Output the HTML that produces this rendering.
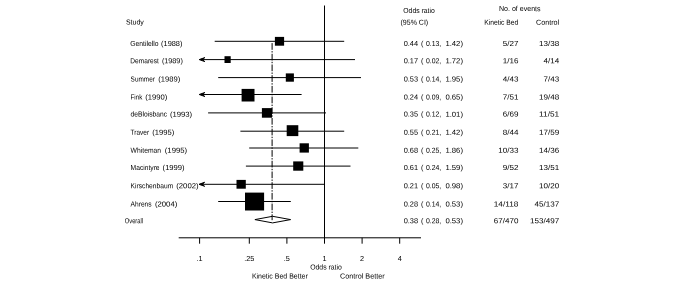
<!DOCTYPE html>
<html><head><meta charset="utf-8"><title>Forest plot</title>
<style>
html,body{margin:0;padding:0;background:#fff;}
svg{display:block;}
text{font-family:"Liberation Sans",sans-serif;font-size:7.3px;fill:#000;}
.l{stroke:#000;stroke-width:1;fill:none;}
</style></head><body>
<svg width="685" height="286" viewBox="0 0 685 286">
<rect width="685" height="286" fill="#fff"/>

<text transform="rotate(0.05 125.9 24.6)" x="125.9" y="24.6" textLength="17.9" lengthAdjust="spacingAndGlyphs">Study</text>
<text transform="rotate(0.05 403.3 13.1)" x="403.3" y="13.1" textLength="31.5" lengthAdjust="spacingAndGlyphs">Odds ratio</text>
<text transform="rotate(0.05 400.5 24.7)" x="400.5" y="24.7" textLength="27.7" lengthAdjust="spacingAndGlyphs">(95% CI)</text>
<text transform="rotate(0.05 499.0 11.1)" x="499.0" y="11.1" textLength="41.6" lengthAdjust="spacingAndGlyphs">No. of events</text>
<text transform="rotate(0.05 484.2 24.7)" x="484.2" y="24.7" textLength="34.2" lengthAdjust="spacingAndGlyphs">Kinetic Bed</text>
<text transform="rotate(0.05 536.0 24.7)" x="536.0" y="24.7" textLength="23.2" lengthAdjust="spacingAndGlyphs">Control</text>
<line class="l" x1="324.5" y1="5.5" x2="324.5" y2="243.7" stroke-width="1.15"/>
<line class="l" x1="272.1" y1="43.1" x2="272.1" y2="220.2" stroke-width="1.25" stroke-dasharray="6.7 1.3 1.4 1.3"/>
<text transform="rotate(0.05 130.3 46.0)" y="46.0"><tspan x="130.3" textLength="28.2" lengthAdjust="spacingAndGlyphs">Gentilello</tspan> <tspan x="161.1" textLength="21.3" lengthAdjust="spacingAndGlyphs">(1988)</tspan></text>
<line class="l" x1="214.7" y1="41.3" x2="344.2" y2="41.3" stroke-width="1"/>
<rect x="274.9" y="36.9" width="9.2" height="8.8" fill="#000"/>
<text transform="rotate(0.05 403.7 46.0)" y="46.0"><tspan x="403.7" textLength="14.4" lengthAdjust="spacingAndGlyphs">0.44</tspan> <tspan x="420.9">(</tspan> <tspan x="425.9" textLength="15.3" lengthAdjust="spacingAndGlyphs">0.13,</tspan> <tspan x="445.4" textLength="17.6" lengthAdjust="spacingAndGlyphs">1.42)</tspan></text>
<text transform="rotate(0.05 502.7 46.0)" x="502.7" y="46.0" textLength="15.7" lengthAdjust="spacingAndGlyphs">5/27</text>
<text transform="rotate(0.05 539.0 46.0)" x="539.0" y="46.0" textLength="20.2" lengthAdjust="spacingAndGlyphs">13/38</text>
<text transform="rotate(0.05 130.3 63.2)" y="63.2"><tspan x="130.3" textLength="28.6" lengthAdjust="spacingAndGlyphs">Demarest</tspan> <tspan x="161.9" textLength="20.9" lengthAdjust="spacingAndGlyphs">(1989)</tspan></text>
<line class="l" x1="200.8" y1="59.6" x2="355.0" y2="59.6" stroke-width="1.3"/>
<path d="M204.8 57.6 L199.2 59.6 L204.8 61.6 L202.6 59.6 Z" fill="#000" stroke="#000" stroke-width="1" stroke-linejoin="miter"/>
<rect x="224.5" y="56.2" width="6.2" height="6.8" fill="#000"/>
<text transform="rotate(0.05 403.7 63.2)" y="63.2"><tspan x="403.7" textLength="14.4" lengthAdjust="spacingAndGlyphs">0.17</tspan> <tspan x="420.9">(</tspan> <tspan x="425.9" textLength="15.3" lengthAdjust="spacingAndGlyphs">0.02,</tspan> <tspan x="445.4" textLength="17.6" lengthAdjust="spacingAndGlyphs">1.72)</tspan></text>
<text transform="rotate(0.05 502.7 63.2)" x="502.7" y="63.2" textLength="15.7" lengthAdjust="spacingAndGlyphs">1/16</text>
<text transform="rotate(0.05 543.5 63.2)" x="543.5" y="63.2" textLength="15.7" lengthAdjust="spacingAndGlyphs">4/14</text>
<text transform="rotate(0.05 130.6 81.5)" y="81.5"><tspan x="130.6" textLength="24.3" lengthAdjust="spacingAndGlyphs">Summer</tspan> <tspan x="158.2" textLength="22.0" lengthAdjust="spacingAndGlyphs">(1989)</tspan></text>
<line class="l" x1="218.2" y1="77.6" x2="361.0" y2="77.6" stroke-width="1"/>
<rect x="285.8" y="73.4" width="8.1" height="8.3" fill="#000"/>
<text transform="rotate(0.05 403.7 81.5)" y="81.5"><tspan x="403.7" textLength="14.4" lengthAdjust="spacingAndGlyphs">0.53</tspan> <tspan x="420.9">(</tspan> <tspan x="425.9" textLength="15.3" lengthAdjust="spacingAndGlyphs">0.14,</tspan> <tspan x="445.4" textLength="17.6" lengthAdjust="spacingAndGlyphs">1.95)</tspan></text>
<text transform="rotate(0.05 502.7 81.5)" x="502.7" y="81.5" textLength="15.7" lengthAdjust="spacingAndGlyphs">4/43</text>
<text transform="rotate(0.05 543.5 81.5)" x="543.5" y="81.5" textLength="15.7" lengthAdjust="spacingAndGlyphs">7/43</text>
<text transform="rotate(0.05 130.6 99.5)" y="99.5"><tspan x="130.6" textLength="11.7" lengthAdjust="spacingAndGlyphs">Fink</tspan> <tspan x="145.3" textLength="22.1" lengthAdjust="spacingAndGlyphs">(1990)</tspan></text>
<line class="l" x1="200.8" y1="94.5" x2="301.6" y2="94.5" stroke-width="1.3"/>
<path d="M204.8 92.5 L199.2 94.5 L204.8 96.5 L202.6 94.5 Z" fill="#000" stroke="#000" stroke-width="1" stroke-linejoin="miter"/>
<rect x="241.6" y="88.9" width="12.9" height="12.6" fill="#000"/>
<text transform="rotate(0.05 403.7 99.5)" y="99.5"><tspan x="403.7" textLength="14.4" lengthAdjust="spacingAndGlyphs">0.24</tspan> <tspan x="420.9">(</tspan> <tspan x="425.9" textLength="15.3" lengthAdjust="spacingAndGlyphs">0.09,</tspan> <tspan x="445.4" textLength="17.6" lengthAdjust="spacingAndGlyphs">0.65)</tspan></text>
<text transform="rotate(0.05 502.7 99.5)" x="502.7" y="99.5" textLength="15.7" lengthAdjust="spacingAndGlyphs">7/51</text>
<text transform="rotate(0.05 539.0 99.5)" x="539.0" y="99.5" textLength="20.2" lengthAdjust="spacingAndGlyphs">19/48</text>
<text transform="rotate(0.05 130.6 116.6)" y="116.6"><tspan x="130.6" textLength="36.4" lengthAdjust="spacingAndGlyphs">deBloisbanc</tspan> <tspan x="169.9" textLength="22.3" lengthAdjust="spacingAndGlyphs">(1993)</tspan></text>
<line class="l" x1="208.1" y1="112.9" x2="326.0" y2="112.9" stroke-width="1"/>
<rect x="261.9" y="108.1" width="10.1" height="9.6" fill="#000"/>
<text transform="rotate(0.05 403.7 116.6)" y="116.6"><tspan x="403.7" textLength="14.4" lengthAdjust="spacingAndGlyphs">0.35</tspan> <tspan x="420.9">(</tspan> <tspan x="425.9" textLength="15.3" lengthAdjust="spacingAndGlyphs">0.12,</tspan> <tspan x="445.4" textLength="17.6" lengthAdjust="spacingAndGlyphs">1.01)</tspan></text>
<text transform="rotate(0.05 502.7 116.6)" x="502.7" y="116.6" textLength="15.7" lengthAdjust="spacingAndGlyphs">6/69</text>
<text transform="rotate(0.05 539.0 116.6)" x="539.0" y="116.6" textLength="20.2" lengthAdjust="spacingAndGlyphs">11/51</text>
<text transform="rotate(0.05 130.6 134.7)" y="134.7"><tspan x="130.6" textLength="18.5" lengthAdjust="spacingAndGlyphs">Traver</tspan> <tspan x="152.3" textLength="22.0" lengthAdjust="spacingAndGlyphs">(1995)</tspan></text>
<line class="l" x1="240.4" y1="131.2" x2="344.2" y2="131.2" stroke-width="1"/>
<rect x="286.7" y="125.2" width="11.6" height="10.9" fill="#000"/>
<text transform="rotate(0.05 403.7 134.7)" y="134.7"><tspan x="403.7" textLength="14.4" lengthAdjust="spacingAndGlyphs">0.55</tspan> <tspan x="420.9">(</tspan> <tspan x="425.9" textLength="15.3" lengthAdjust="spacingAndGlyphs">0.21,</tspan> <tspan x="445.4" textLength="17.6" lengthAdjust="spacingAndGlyphs">1.42)</tspan></text>
<text transform="rotate(0.05 502.7 134.7)" x="502.7" y="134.7" textLength="15.7" lengthAdjust="spacingAndGlyphs">8/44</text>
<text transform="rotate(0.05 539.0 134.7)" x="539.0" y="134.7" textLength="20.2" lengthAdjust="spacingAndGlyphs">17/59</text>
<text transform="rotate(0.05 130.6 152.7)" y="152.7"><tspan x="130.6" textLength="30.5" lengthAdjust="spacingAndGlyphs">Whiteman</tspan> <tspan x="164.8" textLength="22.3" lengthAdjust="spacingAndGlyphs">(1995)</tspan></text>
<line class="l" x1="249.2" y1="148.0" x2="358.3" y2="148.0" stroke-width="1"/>
<rect x="299.6" y="143.3" width="9.3" height="9.3" fill="#000"/>
<text transform="rotate(0.05 403.7 152.7)" y="152.7"><tspan x="403.7" textLength="14.4" lengthAdjust="spacingAndGlyphs">0.68</tspan> <tspan x="420.9">(</tspan> <tspan x="425.9" textLength="15.3" lengthAdjust="spacingAndGlyphs">0.25,</tspan> <tspan x="445.4" textLength="17.6" lengthAdjust="spacingAndGlyphs">1.86)</tspan></text>
<text transform="rotate(0.05 498.2 152.7)" x="498.2" y="152.7" textLength="20.2" lengthAdjust="spacingAndGlyphs">10/33</text>
<text transform="rotate(0.05 539.0 152.7)" x="539.0" y="152.7" textLength="20.2" lengthAdjust="spacingAndGlyphs">14/36</text>
<text transform="rotate(0.05 130.6 170.0)" y="170.0"><tspan x="130.6" textLength="29.0" lengthAdjust="spacingAndGlyphs">Macintyre</tspan> <tspan x="162.6" textLength="22.0" lengthAdjust="spacingAndGlyphs">(1999)</tspan></text>
<line class="l" x1="245.9" y1="166.1" x2="350.5" y2="166.1" stroke-width="1"/>
<rect x="293.2" y="161.4" width="10.1" height="9.3" fill="#000"/>
<text transform="rotate(0.05 403.7 170.0)" y="170.0"><tspan x="403.7" textLength="14.4" lengthAdjust="spacingAndGlyphs">0.61</tspan> <tspan x="420.9">(</tspan> <tspan x="425.9" textLength="15.3" lengthAdjust="spacingAndGlyphs">0.24,</tspan> <tspan x="445.4" textLength="17.6" lengthAdjust="spacingAndGlyphs">1.59)</tspan></text>
<text transform="rotate(0.05 502.7 170.0)" x="502.7" y="170.0" textLength="15.7" lengthAdjust="spacingAndGlyphs">9/52</text>
<text transform="rotate(0.05 539.0 170.0)" x="539.0" y="170.0" textLength="20.2" lengthAdjust="spacingAndGlyphs">13/51</text>
<text transform="rotate(0.05 130.6 188.3)" y="188.3"><tspan x="130.6" textLength="42.6" lengthAdjust="spacingAndGlyphs">Kirschenbaum</tspan> <tspan x="176.2" textLength="22.4" lengthAdjust="spacingAndGlyphs">(2002)</tspan></text>
<line class="l" x1="200.6" y1="184.3" x2="324.8" y2="184.3" stroke-width="1.3"/>
<path d="M204.6 182.3 L199.0 184.3 L204.6 186.3 L202.4 184.3 Z" fill="#000" stroke="#000" stroke-width="1" stroke-linejoin="miter"/>
<rect x="236.5" y="179.9" width="9.3" height="8.8" fill="#000"/>
<text transform="rotate(0.05 403.7 188.3)" y="188.3"><tspan x="403.7" textLength="14.4" lengthAdjust="spacingAndGlyphs">0.21</tspan> <tspan x="420.9">(</tspan> <tspan x="425.9" textLength="15.3" lengthAdjust="spacingAndGlyphs">0.05,</tspan> <tspan x="445.4" textLength="17.6" lengthAdjust="spacingAndGlyphs">0.98)</tspan></text>
<text transform="rotate(0.05 502.7 188.3)" x="502.7" y="188.3" textLength="15.7" lengthAdjust="spacingAndGlyphs">3/17</text>
<text transform="rotate(0.05 539.0 188.3)" x="539.0" y="188.3" textLength="20.2" lengthAdjust="spacingAndGlyphs">10/20</text>
<text transform="rotate(0.05 130.6 206.4)" y="206.4"><tspan x="130.6" textLength="21.0" lengthAdjust="spacingAndGlyphs">Ahrens</tspan> <tspan x="154.9" textLength="22.4" lengthAdjust="spacingAndGlyphs">(2004)</tspan></text>
<line class="l" x1="218.2" y1="201.5" x2="290.8" y2="201.5" stroke-width="1"/>
<rect x="245.0" y="192.6" width="19.1" height="17.9" fill="#000"/>
<text transform="rotate(0.05 403.7 206.4)" y="206.4"><tspan x="403.7" textLength="14.4" lengthAdjust="spacingAndGlyphs">0.28</tspan> <tspan x="420.9">(</tspan> <tspan x="425.9" textLength="15.3" lengthAdjust="spacingAndGlyphs">0.14,</tspan> <tspan x="445.4" textLength="17.6" lengthAdjust="spacingAndGlyphs">0.53)</tspan></text>
<text transform="rotate(0.05 493.7 206.4)" x="493.7" y="206.4" textLength="24.7" lengthAdjust="spacingAndGlyphs">14/118</text>
<text transform="rotate(0.05 534.5 206.4)" x="534.5" y="206.4" textLength="24.7" lengthAdjust="spacingAndGlyphs">45/137</text>
<text transform="rotate(0.05 124.8 223.3)" x="124.8" y="223.3" textLength="18.2" lengthAdjust="spacingAndGlyphs">Overall</text>
<path class="l" d="M254.9 219.6 L272.6 216.3 L290.6 219.6 L272.6 222.9 Z" stroke-width="1.35"/>
<text transform="rotate(0.05 403.7 223.3)" y="223.3"><tspan x="403.7" textLength="14.4" lengthAdjust="spacingAndGlyphs">0.38</tspan> <tspan x="420.9">(</tspan> <tspan x="425.9" textLength="15.3" lengthAdjust="spacingAndGlyphs">0.28,</tspan> <tspan x="445.4" textLength="17.6" lengthAdjust="spacingAndGlyphs">0.53)</tspan></text>
<text transform="rotate(0.05 493.7 223.3)" x="493.7" y="223.3" textLength="24.7" lengthAdjust="spacingAndGlyphs">67/470</text>
<text transform="rotate(0.05 530.0 223.3)" x="530.0" y="223.3" textLength="29.2" lengthAdjust="spacingAndGlyphs">153/497</text>
<line class="l" x1="178.7" y1="237.8" x2="421" y2="237.8" stroke-width="1.2"/>
<line class="l" x1="199.6" y1="237.8" x2="199.6" y2="243.7"/>
<text transform="rotate(0.05 199.6 260.9)" x="199.6" y="260.9" text-anchor="middle">.1</text>
<line class="l" x1="249.3" y1="237.8" x2="249.3" y2="243.7"/>
<text transform="rotate(0.05 249.3 260.9)" x="249.3" y="260.9" text-anchor="middle">.25</text>
<line class="l" x1="286.9" y1="237.8" x2="286.9" y2="243.7"/>
<text transform="rotate(0.05 286.9 260.9)" x="286.9" y="260.9" text-anchor="middle">.5</text>
<text transform="rotate(0.05 324.5 260.9)" x="324.5" y="260.9" text-anchor="middle">1</text>
<line class="l" x1="362.1" y1="237.8" x2="362.1" y2="243.7"/>
<text transform="rotate(0.05 362.1 260.9)" x="362.1" y="260.9" text-anchor="middle">2</text>
<line class="l" x1="399.7" y1="237.8" x2="399.7" y2="243.7"/>
<text transform="rotate(0.05 399.7 260.9)" x="399.7" y="260.9" text-anchor="middle">4</text>
<text transform="rotate(0.05 310.2 269.4)" x="310.2" y="269.4" textLength="31.7" lengthAdjust="spacingAndGlyphs">Odds ratio</text>
<text transform="rotate(0.05 251.9 278.5)" x="251.9" y="278.5" textLength="55.9" lengthAdjust="spacingAndGlyphs">Kinetic Bed Better</text>
<text transform="rotate(0.05 339.9 278.5)" x="339.9" y="278.5" textLength="44.8" lengthAdjust="spacingAndGlyphs">Control Better</text>
</svg></body></html>
